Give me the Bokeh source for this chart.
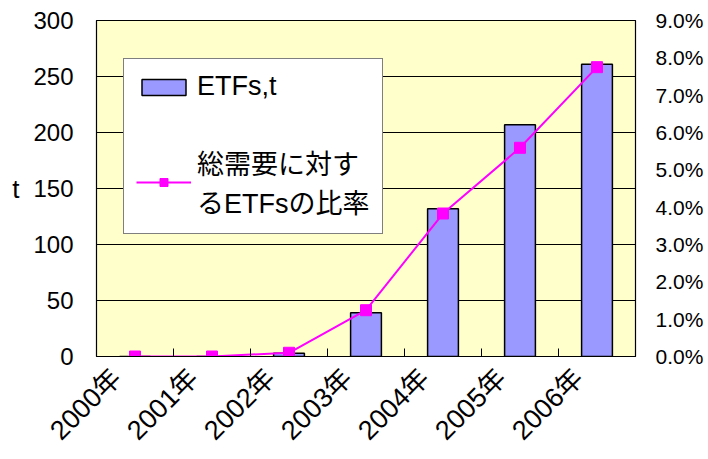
from math import pi
from bokeh.plotting import figure
from bokeh.models import (ColumnDataSource, LinearAxis, Range1d, FixedTicker,
                          NumeralTickFormatter, Legend, LegendItem)
from bokeh.embed import file_html
from bokeh.resources import INLINE

# ---- data ----
years = ["2000年", "2001年", "2002年", "2003年", "2004年", "2005年", "2006年"]
etf_tonnes = [0, 0, 3, 39, 132, 207, 261]
etf_share = [0.0, 0.0, 0.001, 0.0124, 0.0383, 0.0559, 0.0775]
left_ticks = [0, 50, 100, 150, 200, 250, 300]
right_ticks = [0.0, 0.01, 0.02, 0.03, 0.04, 0.05, 0.06, 0.07, 0.08, 0.09]

REG = "'Liberation Sans', 'Noto Sans CJK JP', sans-serif"

W, H = 708, 459
ML, MR, MT, MB = 96, 73, 20, 103

n = len(years)
centers = [i + 0.5 for i in range(n)]          # category slot centres
bounds = [i for i in range(1, n)]              # boundaries between categories

p = figure(x_range=Range1d(0, n), y_range=Range1d(0, 300), width=W, height=H,
           output_backend="svg", toolbar_location=None,
           min_border_left=ML, min_border_right=MR, min_border_top=MT,
           min_border_bottom=MB)
p.extra_y_ranges = {"pct": Range1d(0, 0.09)}

p.background_fill_color = "#FFFFCC"
p.border_fill_color = "white"
p.outline_line_color = "black"
p.outline_line_width = 1.2

src = ColumnDataSource(dict(x=centers, cat=years, t=etf_tonnes, s=etf_share))

bars = p.vbar(x="x", top="t", width=0.4, source=src, fill_color="#9999FF",
              line_color="black", line_width=1.5)
line = p.line(x="x", y="s", source=src, y_range_name="pct",
              line_color="#FF00FF", line_width=2)
pts = p.scatter(x="x", y="s", source=src, y_range_name="pct", marker="square",
                size=11, fill_color="#FF00FF", line_color="#FF00FF")

# ticks between categories on the bottom axis (pointing up)
frame_h = H - MT - MB
tick_h = 8 * 300 / frame_h
tsrc = ColumnDataSource(dict(x=bounds, y0=[0] * len(bounds),
                             y1=[tick_h] * len(bounds)))
p.segment(x0="x", x1="x", y0="y0", y1="y1", source=tsrc,
          line_color="black", line_width=1)

# grid
p.xgrid.grid_line_color = None
p.ygrid.grid_line_color = "black"
p.ygrid.grid_line_width = 1
p.ygrid.ticker = FixedTicker(ticks=left_ticks)

# left axis
ya = p.yaxis[0]
ya.ticker = FixedTicker(ticks=left_ticks)
ya.axis_label = "t"
ya.axis_label_orientation = "horizontal"
ya.axis_label_text_font = REG
ya.axis_label_text_font_size = "26px"
ya.axis_label_text_font_style = "normal"
ya.axis_label_text_color = "black"
ya.axis_label_standoff = 11
ya.major_label_text_font = REG
ya.major_label_text_font_size = "24px"
ya.major_label_text_color = "black"
ya.major_label_standoff = 23
ya.major_tick_out = 0
ya.major_tick_in = 0
ya.minor_tick_out = 0
ya.minor_tick_in = 0
ya.axis_line_color = "black"

# right axis
ra = LinearAxis(y_range_name="pct", ticker=FixedTicker(ticks=right_ticks),
                formatter=NumeralTickFormatter(format="0.0%"))
ra.major_label_text_font = REG
ra.major_label_text_font_size = "21px"
ra.major_label_text_color = "black"
ra.major_label_standoff = 20
ra.major_tick_out = 0
ra.major_tick_in = 0
ra.minor_tick_out = 0
ra.minor_tick_in = 0
ra.axis_line_color = "black"
p.add_layout(ra, "right")

# bottom axis: category labels, slightly left of the slot centres
label_shift = 0.24
label_pos = [c - label_shift for c in centers]
xa = p.xaxis[0]
xa.ticker = FixedTicker(ticks=label_pos)
xa.major_label_overrides = {pos: y for pos, y in zip(label_pos, years)}
xa.major_label_orientation = pi / 4
xa.major_label_text_font = REG
xa.major_label_text_font_size = "27px"
xa.major_label_text_color = "black"
xa.major_label_standoff = 17
xa.major_tick_out = 0
xa.major_tick_in = 0
xa.minor_tick_out = 0
xa.minor_tick_in = 0
xa.axis_line_color = "black"
xa.axis_line_width = 1.2

legend = Legend(items=[
    LegendItem(label="ETFs,t", renderers=[bars]),
    LegendItem(label="総需要に対す\nるETFsの比率", renderers=[line, pts]),
], location=(27, 122))
legend.label_text_font = REG
legend.label_text_font_size = "27px"
legend.label_text_line_height = 1.0
legend.label_text_color = "black"
legend.border_line_color = "black"
legend.border_line_width = 1
legend.background_fill_color = "white"
legend.background_fill_alpha = 1
legend.padding = 12
legend.margin = 0
legend.spacing = 41
legend.glyph_width = 55
legend.glyph_height = 20
legend.label_standoff = 6
p.add_layout(legend, "center")

open("out.html", "w").write(file_html(p, INLINE))
